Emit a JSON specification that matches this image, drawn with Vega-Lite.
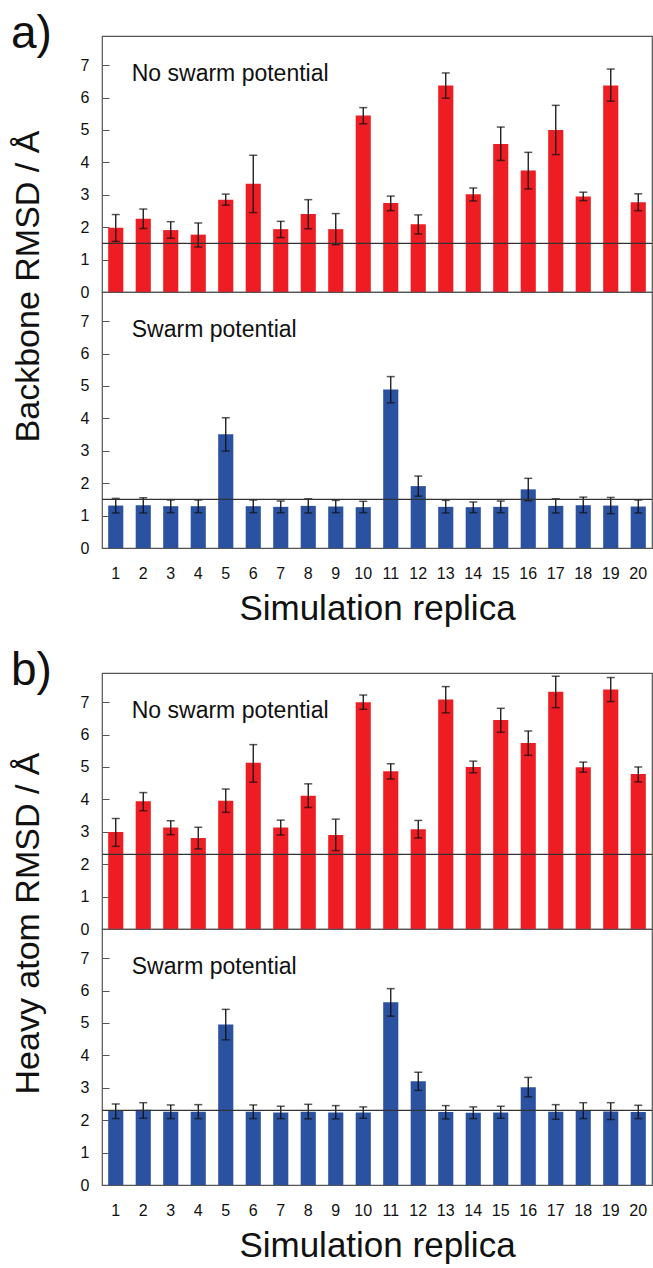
{
  "$schema": "https://vega.github.io/schema/vega-lite/v6.json",
  "padding": {"left": 10, "top": 10, "right": 1, "bottom": 0},
  "background": "white",
  "spacing": 20,
  "config": {
    "font": "Liberation Sans",
    "view": {"stroke": "#555555", "strokeWidth": 1.2},
    "axis": {"labelFont": "Liberation Sans", "titleFont": "Liberation Sans", "labelColor": "#111", "titleColor": "#111", "titleFontWeight": "normal", "grid": false},
    "title": {"font": "Liberation Sans", "fontWeight": "normal", "color": "#111"}
  },
  "datasets": {
    "backbone": [
      {"replica": 1, "cond": "No swarm potential", "rmsd": 1.98, "lo": 1.56, "hi": 2.39, "thr": 1.5},
      {"replica": 2, "cond": "No swarm potential", "rmsd": 2.26, "lo": 1.96, "hi": 2.56, "thr": 1.5},
      {"replica": 3, "cond": "No swarm potential", "rmsd": 1.91, "lo": 1.66, "hi": 2.17, "thr": 1.5},
      {"replica": 4, "cond": "No swarm potential", "rmsd": 1.77, "lo": 1.39, "hi": 2.13, "thr": 1.5},
      {"replica": 5, "cond": "No swarm potential", "rmsd": 2.85, "lo": 2.68, "hi": 3.02, "thr": 1.5},
      {"replica": 6, "cond": "No swarm potential", "rmsd": 3.34, "lo": 2.45, "hi": 4.22, "thr": 1.5},
      {"replica": 7, "cond": "No swarm potential", "rmsd": 1.94, "lo": 1.68, "hi": 2.18, "thr": 1.5},
      {"replica": 8, "cond": "No swarm potential", "rmsd": 2.41, "lo": 1.95, "hi": 2.85, "thr": 1.5},
      {"replica": 9, "cond": "No swarm potential", "rmsd": 1.94, "lo": 1.46, "hi": 2.42, "thr": 1.5},
      {"replica": 10, "cond": "No swarm potential", "rmsd": 5.45, "lo": 5.19, "hi": 5.69, "thr": 1.5},
      {"replica": 11, "cond": "No swarm potential", "rmsd": 2.75, "lo": 2.51, "hi": 2.96, "thr": 1.5},
      {"replica": 12, "cond": "No swarm potential", "rmsd": 2.09, "lo": 1.79, "hi": 2.38, "thr": 1.5},
      {"replica": 13, "cond": "No swarm potential", "rmsd": 6.37, "lo": 5.98, "hi": 6.76, "thr": 1.5},
      {"replica": 14, "cond": "No swarm potential", "rmsd": 3.02, "lo": 2.81, "hi": 3.21, "thr": 1.5},
      {"replica": 15, "cond": "No swarm potential", "rmsd": 4.57, "lo": 4.06, "hi": 5.09, "thr": 1.5},
      {"replica": 16, "cond": "No swarm potential", "rmsd": 3.75, "lo": 3.18, "hi": 4.31, "thr": 1.5},
      {"replica": 17, "cond": "No swarm potential", "rmsd": 5.0, "lo": 4.24, "hi": 5.76, "thr": 1.5},
      {"replica": 18, "cond": "No swarm potential", "rmsd": 2.95, "lo": 2.82, "hi": 3.08, "thr": 1.5},
      {"replica": 19, "cond": "No swarm potential", "rmsd": 6.37, "lo": 5.89, "hi": 6.88, "thr": 1.5},
      {"replica": 20, "cond": "No swarm potential", "rmsd": 2.77, "lo": 2.51, "hi": 3.03, "thr": 1.5},
      {"replica": 1, "cond": "Swarm potential", "rmsd": 1.31, "lo": 1.08, "hi": 1.53, "thr": 1.5},
      {"replica": 2, "cond": "Swarm potential", "rmsd": 1.32, "lo": 1.08, "hi": 1.55, "thr": 1.5},
      {"replica": 3, "cond": "Swarm potential", "rmsd": 1.29, "lo": 1.09, "hi": 1.48, "thr": 1.5},
      {"replica": 4, "cond": "Swarm potential", "rmsd": 1.29, "lo": 1.09, "hi": 1.48, "thr": 1.5},
      {"replica": 5, "cond": "Swarm potential", "rmsd": 3.51, "lo": 2.99, "hi": 4.02, "thr": 1.5},
      {"replica": 6, "cond": "Swarm potential", "rmsd": 1.29, "lo": 1.09, "hi": 1.48, "thr": 1.5},
      {"replica": 7, "cond": "Swarm potential", "rmsd": 1.27, "lo": 1.09, "hi": 1.45, "thr": 1.5},
      {"replica": 8, "cond": "Swarm potential", "rmsd": 1.3, "lo": 1.08, "hi": 1.52, "thr": 1.5},
      {"replica": 9, "cond": "Swarm potential", "rmsd": 1.28, "lo": 1.09, "hi": 1.47, "thr": 1.5},
      {"replica": 10, "cond": "Swarm potential", "rmsd": 1.26, "lo": 1.09, "hi": 1.44, "thr": 1.5},
      {"replica": 11, "cond": "Swarm potential", "rmsd": 4.89, "lo": 4.48, "hi": 5.29, "thr": 1.5},
      {"replica": 12, "cond": "Swarm potential", "rmsd": 1.91, "lo": 1.6, "hi": 2.22, "thr": 1.5},
      {"replica": 13, "cond": "Swarm potential", "rmsd": 1.27, "lo": 1.08, "hi": 1.47, "thr": 1.5},
      {"replica": 14, "cond": "Swarm potential", "rmsd": 1.26, "lo": 1.09, "hi": 1.42, "thr": 1.5},
      {"replica": 15, "cond": "Swarm potential", "rmsd": 1.27, "lo": 1.09, "hi": 1.45, "thr": 1.5},
      {"replica": 16, "cond": "Swarm potential", "rmsd": 1.81, "lo": 1.46, "hi": 2.15, "thr": 1.5},
      {"replica": 17, "cond": "Swarm potential", "rmsd": 1.3, "lo": 1.08, "hi": 1.52, "thr": 1.5},
      {"replica": 18, "cond": "Swarm potential", "rmsd": 1.32, "lo": 1.09, "hi": 1.57, "thr": 1.5},
      {"replica": 19, "cond": "Swarm potential", "rmsd": 1.31, "lo": 1.06, "hi": 1.56, "thr": 1.5},
      {"replica": 20, "cond": "Swarm potential", "rmsd": 1.28, "lo": 1.08, "hi": 1.48, "thr": 1.5}
    ],
    "heavy": [
      {"replica": 1, "cond": "No swarm potential", "rmsd": 2.99, "lo": 2.55, "hi": 3.41, "thr": 2.3},
      {"replica": 2, "cond": "No swarm potential", "rmsd": 3.94, "lo": 3.65, "hi": 4.21, "thr": 2.3},
      {"replica": 3, "cond": "No swarm potential", "rmsd": 3.13, "lo": 2.91, "hi": 3.34, "thr": 2.3},
      {"replica": 4, "cond": "No swarm potential", "rmsd": 2.81, "lo": 2.47, "hi": 3.14, "thr": 2.3},
      {"replica": 5, "cond": "No swarm potential", "rmsd": 3.96, "lo": 3.6, "hi": 4.32, "thr": 2.3},
      {"replica": 6, "cond": "No swarm potential", "rmsd": 5.13, "lo": 4.53, "hi": 5.69, "thr": 2.3},
      {"replica": 7, "cond": "No swarm potential", "rmsd": 3.13, "lo": 2.9, "hi": 3.36, "thr": 2.3},
      {"replica": 8, "cond": "No swarm potential", "rmsd": 4.11, "lo": 3.75, "hi": 4.48, "thr": 2.3},
      {"replica": 9, "cond": "No swarm potential", "rmsd": 2.9, "lo": 2.42, "hi": 3.39, "thr": 2.3},
      {"replica": 10, "cond": "No swarm potential", "rmsd": 7.0, "lo": 6.78, "hi": 7.22, "thr": 2.3},
      {"replica": 11, "cond": "No swarm potential", "rmsd": 4.87, "lo": 4.63, "hi": 5.1, "thr": 2.3},
      {"replica": 12, "cond": "No swarm potential", "rmsd": 3.08, "lo": 2.81, "hi": 3.35, "thr": 2.3},
      {"replica": 13, "cond": "No swarm potential", "rmsd": 7.08, "lo": 6.67, "hi": 7.48, "thr": 2.3},
      {"replica": 14, "cond": "No swarm potential", "rmsd": 5.0, "lo": 4.82, "hi": 5.18, "thr": 2.3},
      {"replica": 15, "cond": "No swarm potential", "rmsd": 6.45, "lo": 6.07, "hi": 6.81, "thr": 2.3},
      {"replica": 16, "cond": "No swarm potential", "rmsd": 5.74, "lo": 5.36, "hi": 6.11, "thr": 2.3},
      {"replica": 17, "cond": "No swarm potential", "rmsd": 7.32, "lo": 6.83, "hi": 7.8, "thr": 2.3},
      {"replica": 18, "cond": "No swarm potential", "rmsd": 4.99, "lo": 4.84, "hi": 5.15, "thr": 2.3},
      {"replica": 19, "cond": "No swarm potential", "rmsd": 7.39, "lo": 7.02, "hi": 7.76, "thr": 2.3},
      {"replica": 20, "cond": "No swarm potential", "rmsd": 4.78, "lo": 4.54, "hi": 5.0, "thr": 2.3},
      {"replica": 1, "cond": "Swarm potential", "rmsd": 2.3, "lo": 2.05, "hi": 2.5, "thr": 2.3},
      {"replica": 2, "cond": "Swarm potential", "rmsd": 2.32, "lo": 2.06, "hi": 2.54, "thr": 2.3},
      {"replica": 3, "cond": "Swarm potential", "rmsd": 2.26, "lo": 2.05, "hi": 2.47, "thr": 2.3},
      {"replica": 4, "cond": "Swarm potential", "rmsd": 2.26, "lo": 2.05, "hi": 2.48, "thr": 2.3},
      {"replica": 5, "cond": "Swarm potential", "rmsd": 4.95, "lo": 4.48, "hi": 5.42, "thr": 2.3},
      {"replica": 6, "cond": "Swarm potential", "rmsd": 2.26, "lo": 2.05, "hi": 2.47, "thr": 2.3},
      {"replica": 7, "cond": "Swarm potential", "rmsd": 2.24, "lo": 2.05, "hi": 2.43, "thr": 2.3},
      {"replica": 8, "cond": "Swarm potential", "rmsd": 2.26, "lo": 2.04, "hi": 2.49, "thr": 2.3},
      {"replica": 9, "cond": "Swarm potential", "rmsd": 2.24, "lo": 2.04, "hi": 2.45, "thr": 2.3},
      {"replica": 10, "cond": "Swarm potential", "rmsd": 2.24, "lo": 2.06, "hi": 2.41, "thr": 2.3},
      {"replica": 11, "cond": "Swarm potential", "rmsd": 5.64, "lo": 5.21, "hi": 6.06, "thr": 2.3},
      {"replica": 12, "cond": "Swarm potential", "rmsd": 3.2, "lo": 2.92, "hi": 3.48, "thr": 2.3},
      {"replica": 13, "cond": "Swarm potential", "rmsd": 2.25, "lo": 2.04, "hi": 2.45, "thr": 2.3},
      {"replica": 14, "cond": "Swarm potential", "rmsd": 2.23, "lo": 2.05, "hi": 2.41, "thr": 2.3},
      {"replica": 15, "cond": "Swarm potential", "rmsd": 2.24, "lo": 2.06, "hi": 2.43, "thr": 2.3},
      {"replica": 16, "cond": "Swarm potential", "rmsd": 3.02, "lo": 2.72, "hi": 3.32, "thr": 2.3},
      {"replica": 17, "cond": "Swarm potential", "rmsd": 2.26, "lo": 2.03, "hi": 2.48, "thr": 2.3},
      {"replica": 18, "cond": "Swarm potential", "rmsd": 2.3, "lo": 2.05, "hi": 2.54, "thr": 2.3},
      {"replica": 19, "cond": "Swarm potential", "rmsd": 2.27, "lo": 2.02, "hi": 2.54, "thr": 2.3},
      {"replica": 20, "cond": "Swarm potential", "rmsd": 2.25, "lo": 2.05, "hi": 2.46, "thr": 2.3}
    ]
  },
  "vconcat": [
    {
      "spacing": 0,
      "bounds": "flush",
      "vconcat": [
        {
          "data": {"name": "backbone"},
          "transform": [{"filter": "datum.cond == 'No swarm potential'"}],
          "title": {"text": "a)", "anchor": "start", "frame": "bounds", "fontSize": 46, "offset": -22},
          "width": 550, "height": 256,
          "encoding": {"x": {"field": "replica", "type": "ordinal", "scale": {"paddingInner": 0.45, "paddingOuter": 0.225}, "axis": null}},
          "layer": [
            {"mark": {"type": "bar", "color": "#EE1D24"}, "encoding": {"y": {"field": "rmsd", "type": "quantitative", "scale": {"domain": [0, 7.9], "nice": false}, "axis": {"title": "Backbone RMSD / Å", "values": [0, 1, 2, 3, 4, 5, 6, 7], "labelFontSize": 16, "titleFontSize": 34, "domain": false, "tickSize": -7, "tickColor": "#555", "labelPadding": 20, "titleX": -64, "titleY": 250, "titleBaseline": "alphabetic"}}}},
            {"mark": {"type": "rule", "color": "#111", "strokeWidth": 1.3}, "encoding": {"y": {"field": "lo", "type": "quantitative", "axis": null}, "y2": {"field": "hi"}}},
            {"mark": {"type": "tick", "color": "#111", "size": 8, "thickness": 1.5}, "encoding": {"y": {"field": "lo", "type": "quantitative", "axis": null}}},
            {"mark": {"type": "tick", "color": "#111", "size": 8, "thickness": 1.5}, "encoding": {"y": {"field": "hi", "type": "quantitative", "axis": null}}},
            {"mark": {"type": "rule", "color": "#333", "strokeWidth": 1.2}, "encoding": {"x": null, "y": {"aggregate": "mean", "field": "thr", "type": "quantitative", "axis": null}}},
            {"transform": [{"filter": "datum.replica == 1"}], "mark": {"type": "text", "align": "left", "baseline": "alphabetic", "fontSize": 23, "dx": 16, "color": "#111"}, "encoding": {"y": {"datum": 6.5, "type": "quantitative", "axis": null}, "text": {"field": "cond"}}}
          ],
          "resolve": {"axis": {"y": "independent"}}
        },
        {
          "data": {"name": "backbone"},
          "transform": [{"filter": "datum.cond == 'Swarm potential'"}],
          "width": 550, "height": 256,
          "encoding": {"x": {"field": "replica", "type": "ordinal", "scale": {"paddingInner": 0.45, "paddingOuter": 0.225}, "axis": {"title": "Simulation replica", "labelAngle": 0, "labelFontSize": 16, "titleFontSize": 35, "ticks": false, "domain": false, "labelPadding": 17, "titlePadding": 10}}},
          "layer": [
            {"mark": {"type": "bar", "color": "#2A52A1"}, "encoding": {"y": {"field": "rmsd", "type": "quantitative", "scale": {"domain": [0, 7.9], "nice": false}, "axis": {"title": null, "values": [0, 1, 2, 3, 4, 5, 6, 7], "labelFontSize": 16, "domain": false, "tickSize": -7, "tickColor": "#555", "labelPadding": 20}}}},
            {"mark": {"type": "rule", "color": "#111", "strokeWidth": 1.3}, "encoding": {"y": {"field": "lo", "type": "quantitative", "axis": null}, "y2": {"field": "hi"}}},
            {"mark": {"type": "tick", "color": "#111", "size": 8, "thickness": 1.5}, "encoding": {"y": {"field": "lo", "type": "quantitative", "axis": null}}},
            {"mark": {"type": "tick", "color": "#111", "size": 8, "thickness": 1.5}, "encoding": {"y": {"field": "hi", "type": "quantitative", "axis": null}}},
            {"mark": {"type": "rule", "color": "#333", "strokeWidth": 1.2}, "encoding": {"x": null, "y": {"aggregate": "mean", "field": "thr", "type": "quantitative", "axis": null}}},
            {"transform": [{"filter": "datum.replica == 1"}], "mark": {"type": "text", "align": "left", "baseline": "alphabetic", "fontSize": 23, "dx": 16, "color": "#111"}, "encoding": {"y": {"datum": 6.5, "type": "quantitative", "axis": null}, "text": {"field": "cond"}}}
          ],
          "resolve": {"axis": {"y": "independent"}}
        }
      ]
    },
    {
      "spacing": 0,
      "bounds": "flush",
      "vconcat": [
        {
          "data": {"name": "heavy"},
          "transform": [{"filter": "datum.cond == 'No swarm potential'"}],
          "title": {"text": "b)", "anchor": "start", "frame": "bounds", "fontSize": 46, "offset": -22},
          "width": 550, "height": 256,
          "encoding": {"x": {"field": "replica", "type": "ordinal", "scale": {"paddingInner": 0.45, "paddingOuter": 0.225}, "axis": null}},
          "layer": [
            {"mark": {"type": "bar", "color": "#EE1D24"}, "encoding": {"y": {"field": "rmsd", "type": "quantitative", "scale": {"domain": [0, 7.9], "nice": false}, "axis": {"title": "Heavy atom RMSD / Å", "values": [0, 1, 2, 3, 4, 5, 6, 7], "labelFontSize": 16, "titleFontSize": 34, "domain": false, "tickSize": -7, "tickColor": "#555", "labelPadding": 20, "titleX": -64, "titleY": 250, "titleBaseline": "alphabetic"}}}},
            {"mark": {"type": "rule", "color": "#111", "strokeWidth": 1.3}, "encoding": {"y": {"field": "lo", "type": "quantitative", "axis": null}, "y2": {"field": "hi"}}},
            {"mark": {"type": "tick", "color": "#111", "size": 8, "thickness": 1.5}, "encoding": {"y": {"field": "lo", "type": "quantitative", "axis": null}}},
            {"mark": {"type": "tick", "color": "#111", "size": 8, "thickness": 1.5}, "encoding": {"y": {"field": "hi", "type": "quantitative", "axis": null}}},
            {"mark": {"type": "rule", "color": "#333", "strokeWidth": 1.2}, "encoding": {"x": null, "y": {"aggregate": "mean", "field": "thr", "type": "quantitative", "axis": null}}},
            {"transform": [{"filter": "datum.replica == 1"}], "mark": {"type": "text", "align": "left", "baseline": "alphabetic", "fontSize": 23, "dx": 16, "color": "#111"}, "encoding": {"y": {"datum": 6.5, "type": "quantitative", "axis": null}, "text": {"field": "cond"}}}
          ],
          "resolve": {"axis": {"y": "independent"}}
        },
        {
          "data": {"name": "heavy"},
          "transform": [{"filter": "datum.cond == 'Swarm potential'"}],
          "width": 550, "height": 256,
          "encoding": {"x": {"field": "replica", "type": "ordinal", "scale": {"paddingInner": 0.45, "paddingOuter": 0.225}, "axis": {"title": "Simulation replica", "labelAngle": 0, "labelFontSize": 16, "titleFontSize": 35, "ticks": false, "domain": false, "labelPadding": 17, "titlePadding": 10}}},
          "layer": [
            {"mark": {"type": "bar", "color": "#2A52A1"}, "encoding": {"y": {"field": "rmsd", "type": "quantitative", "scale": {"domain": [0, 7.9], "nice": false}, "axis": {"title": null, "values": [0, 1, 2, 3, 4, 5, 6, 7], "labelFontSize": 16, "domain": false, "tickSize": -7, "tickColor": "#555", "labelPadding": 20}}}},
            {"mark": {"type": "rule", "color": "#111", "strokeWidth": 1.3}, "encoding": {"y": {"field": "lo", "type": "quantitative", "axis": null}, "y2": {"field": "hi"}}},
            {"mark": {"type": "tick", "color": "#111", "size": 8, "thickness": 1.5}, "encoding": {"y": {"field": "lo", "type": "quantitative", "axis": null}}},
            {"mark": {"type": "tick", "color": "#111", "size": 8, "thickness": 1.5}, "encoding": {"y": {"field": "hi", "type": "quantitative", "axis": null}}},
            {"mark": {"type": "rule", "color": "#333", "strokeWidth": 1.2}, "encoding": {"x": null, "y": {"aggregate": "mean", "field": "thr", "type": "quantitative", "axis": null}}},
            {"transform": [{"filter": "datum.replica == 1"}], "mark": {"type": "text", "align": "left", "baseline": "alphabetic", "fontSize": 23, "dx": 16, "color": "#111"}, "encoding": {"y": {"datum": 6.5, "type": "quantitative", "axis": null}, "text": {"field": "cond"}}}
          ],
          "resolve": {"axis": {"y": "independent"}}
        }
      ]
    }
  ]
}
